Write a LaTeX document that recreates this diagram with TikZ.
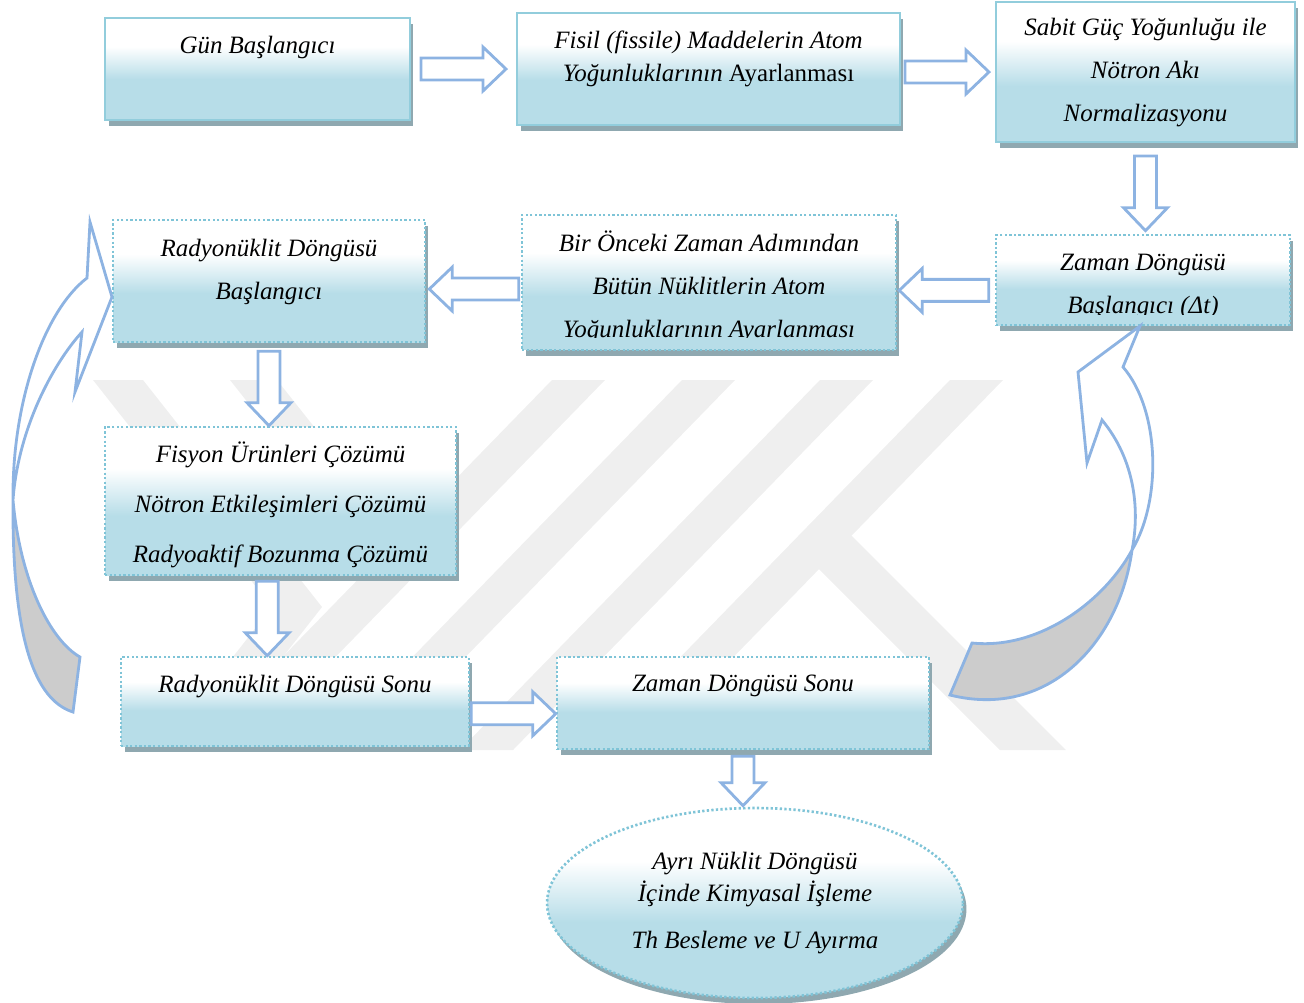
\documentclass[tikz,border=0pt]{standalone}
\usepackage{fontspec}
\setmainfont{Liberation Serif}
\usepackage{xcolor}
\usetikzlibrary{shapes.geometric, positioning, calc, shadows}

\definecolor{boxline}{HTML}{92CDDC}
\definecolor{boxdot}{HTML}{7FC4D7}
\definecolor{boxblue}{HTML}{B7DDE8}
\definecolor{shadowc}{HTML}{8FA8B0}
\definecolor{arrowblue}{HTML}{8DB3E2}
\definecolor{ribbongray}{HTML}{CCCCCC}
\definecolor{markgray}{HTML}{EFEFEF}

\pgfdeclareverticalshading{boxshade}{100bp}{color(0bp)=(boxblue); color(45bp)=(boxblue); color(61bp)=(white); color(100bp)=(white)}

\newcommand{\shaftw}{0.22cm}
\newcommand{\headw}{0.44cm}
\newcommand{\headlen}{0.46cm}
% hollow block arrow from #1 to #2, gaps #3 and #4
\newcommand{\blockarrow}[4]{%
  \coordinate (ba-s) at ($(#1)!#3!(#2)$);
  \coordinate (ba-e) at ($(#2)!#4!(#1)$);
  \coordinate (ba-h) at ($(ba-e)!\headlen!(ba-s)$);
  \draw[blockarrow] ($(ba-s)!\shaftw!90:(ba-e)$) -- ($(ba-h)!\shaftw!90:(ba-e)$)
    -- ($(ba-h)!\headw!90:(ba-e)$) -- (ba-e) -- ($(ba-h)!\headw!-90:(ba-e)$)
    -- ($(ba-h)!\shaftw!-90:(ba-e)$) -- ($(ba-s)!\shaftw!-90:(ba-e)$) -- cycle;}

\begin{document}
\begin{tikzpicture}[x=0.02cm, y=-0.02cm,
    solidbox/.style={rectangle, draw=boxline, line width=1.2pt, shade, shading=boxshade,
      drop shadow={shadow xshift=0.07cm, shadow yshift=-0.12cm, fill=shadowc, opacity=1}},
    dotbox/.style={solidbox, draw=boxdot, line width=1.5pt, dash pattern=on 1.3pt off 1.3pt},
    boxtext/.style={font=\fontsize{14.2}{24.4}\selectfont\itshape, align=center},
    blockarrow/.style={draw=arrowblue, line width=1.6pt, fill=white, line join=miter},
    ribbon/.style={draw=arrowblue, line width=1.6pt, line join=miter},
    wmark/.style={fill=markgray}
]
    \useasboundingbox (0,0) rectangle (1304,1002);

    % Watermark
    \fill[wmark] (93,380) -- (143,380) -- (322,607) -- (210,750) -- (160,750) -- (272,607) -- cycle;
    \fill[wmark] (230,380) -- (277,380) -- (422,563) -- (396,590) -- cycle;
    \foreach \sx in {552,682,820,950}
        \fill[wmark] (\sx,380) -- (\sx+53,380) -- (\sx-307,750) -- (\sx-360,750) -- cycle;
    \fill[wmark] (815,565) -- (848,532) -- (1066,750) -- (1000,750) -- cycle;

    % Boxes
    \node[solidbox, minimum width=6.1cm, minimum height=2.04cm] (gun) at (257.5,69) {};
    \node[solidbox, minimum width=7.66cm, minimum height=2.24cm] (fisil) at (708.5,69) {};
    \node[solidbox, minimum width=5.98cm, minimum height=2.8cm] (sabit) at (1145.5,72) {};
    \node[dotbox, minimum width=5.88cm, minimum height=1.8cm] (zaman) at (1143,280) {};
    \node[dotbox, minimum width=7.48cm, minimum height=2.7cm] (onceki) at (709,282.5) {};
    \node[dotbox, minimum width=6.24cm, minimum height=2.44cm] (radyo) at (269,281) {};
    \node[dotbox, minimum width=7.02cm, minimum height=2.96cm] (fisyon) at (280.5,501) {};
    \node[dotbox, minimum width=6.96cm, minimum height=1.78cm] (radyoson) at (295,701.5) {};
    \node[dotbox, minimum width=7.44cm, minimum height=1.84cm] (zamanson) at (743,703) {};
    \node[dotbox, ellipse, minimum width=8.32cm, minimum height=3.8cm, boxtext,
        font=\fontsize{14.2}{18}\selectfont\itshape] (ayri) at (755,903)
        {Ayrı Nüklit Döngüsü\\İçinde Kimyasal İşleme\\[9pt]Th Besleme ve U Ayırma};

    % Texts
    \node[boxtext] (gun-t) at ($(gun.north)+(0,30.5)$) {Gün Başlangıcı};
    \node[boxtext, font=\fontsize{14.2}{18.7}\selectfont\itshape] (fisil-t) at ($(fisil.north)+(0,47)$)
        {Fisil (fissile) Maddelerin Atom\\Yoğunluklarının \textup{Ayarlanması}};
    \node[boxtext] (sabit-t) at ($(sabit.north)+(0,71.5)$) {Sabit Güç Yoğunluğu ile\\Nötron Akı\\Normalizasyonu};
    \begin{scope}
        \clip (zaman.north west) rectangle ([yshift=0.24cm]zaman.south east);
        \node[boxtext] (zaman-t) at ($(zaman.north)+(0,53)$) {Zaman Döngüsü\\Başlangıcı (Δt)};
    \end{scope}
    \begin{scope}
        \clip (onceki.north west) rectangle ([yshift=0.28cm]onceki.south east);
        \node[boxtext] (onceki-t) at ($(onceki.north)+(0,73.5)$)
            {Bir Önceki Zaman Adımından\\Bütün Nüklitlerin Atom\\Yoğunluklarının Ayarlanması};
    \end{scope}
    \node[boxtext] (radyo-t) at ($(radyo.north)+(0,53)$) {Radyonüklit Döngüsü\\Başlangıcı};
    \node[boxtext, font=\fontsize{14.2}{28.4}\selectfont\itshape] (fisyon-t) at ($(fisyon.north)+(0,79)$)
        {Fisyon Ürünleri Çözümü\\Nötron Etkileşimleri Çözümü\\Radyoaktif Bozunma Çözümü};
    \node[boxtext] (radyoson-t) at ($(radyoson.north)+(0,30.5)$) {Radyonüklit Döngüsü Sonu};
    \node[boxtext] (zamanson-t) at ($(zamanson.north)+(0,30.5)$) {Zaman Döngüsü Sonu};

    % Block arrows
    \blockarrow{gun.east}{fisil.west}{0.2cm}{0.2cm}
    \blockarrow{sabit.west -| fisil.east}{sabit.west}{0.08cm}{0.12cm}
    \blockarrow{sabit.south}{sabit.south |- zaman.north}{0.26cm}{0.06cm}
    \blockarrow{zaman.184}{zaman.184 -| onceki.east}{0.12cm}{0.04cm}
    \blockarrow{onceki.182}{onceki.182 -| radyo.east}{0.04cm}{0.06cm}
    \blockarrow{radyo.south}{radyo.south |- fisyon.north}{0.16cm}{0}
    \blockarrow{fisyon.260}{fisyon.260 |- radyoson.north}{0.1cm}{0}
    \blockarrow{radyoson.356}{radyoson.356 -| zamanson.west}{0.02cm}{0}
    \blockarrow{zamanson.south}{zamanson.south |- ayri.north}{0.12cm}{0.02cm}

    % Curved arrows
    \fill[white] (87,278) .. controls (45,310) and (12,400) .. (13,500)
        .. controls (18,430) and (52,365) .. (82,332) -- (75,392) -- (112,297) -- (90,222) -- cycle;
    \fill[ribbongray] (13,500) .. controls (20,580) and (50,640) .. (80,657) -- (73,712)
        .. controls (35,700) and (12,640) .. (13,500) -- cycle;
    \draw[ribbon] (87,278) .. controls (45,310) and (12,400) .. (13,500)
        .. controls (20,580) and (50,640) .. (80,657) -- (73,712)
        .. controls (35,700) and (12,640) .. (13,500)
        .. controls (18,430) and (52,365) .. (82,332) -- (75,392) -- (112,297) -- (90,222) -- cycle;

    \fill[white] (1140,326) -- (1123,367) .. controls (1160,410) and (1162,500) .. (1132,550)
        .. controls (1140,510) and (1135,460) .. (1102,420) -- (1087,463) -- (1078,372) -- cycle;
    \fill[ribbongray] (1132,550) .. controls (1120,640) and (1050,720) .. (950,695) -- (972,643)
        .. controls (1040,650) and (1105,600) .. (1132,550) -- cycle;
    \draw[ribbon] (1140,326) -- (1123,367) .. controls (1160,410) and (1162,500) .. (1132,550)
        .. controls (1120,640) and (1050,720) .. (950,695) -- (972,643)
        .. controls (1040,650) and (1105,600) .. (1132,550)
        .. controls (1140,510) and (1135,460) .. (1102,420) -- (1087,463) -- (1078,372) -- cycle;
\end{tikzpicture}
\end{document}
